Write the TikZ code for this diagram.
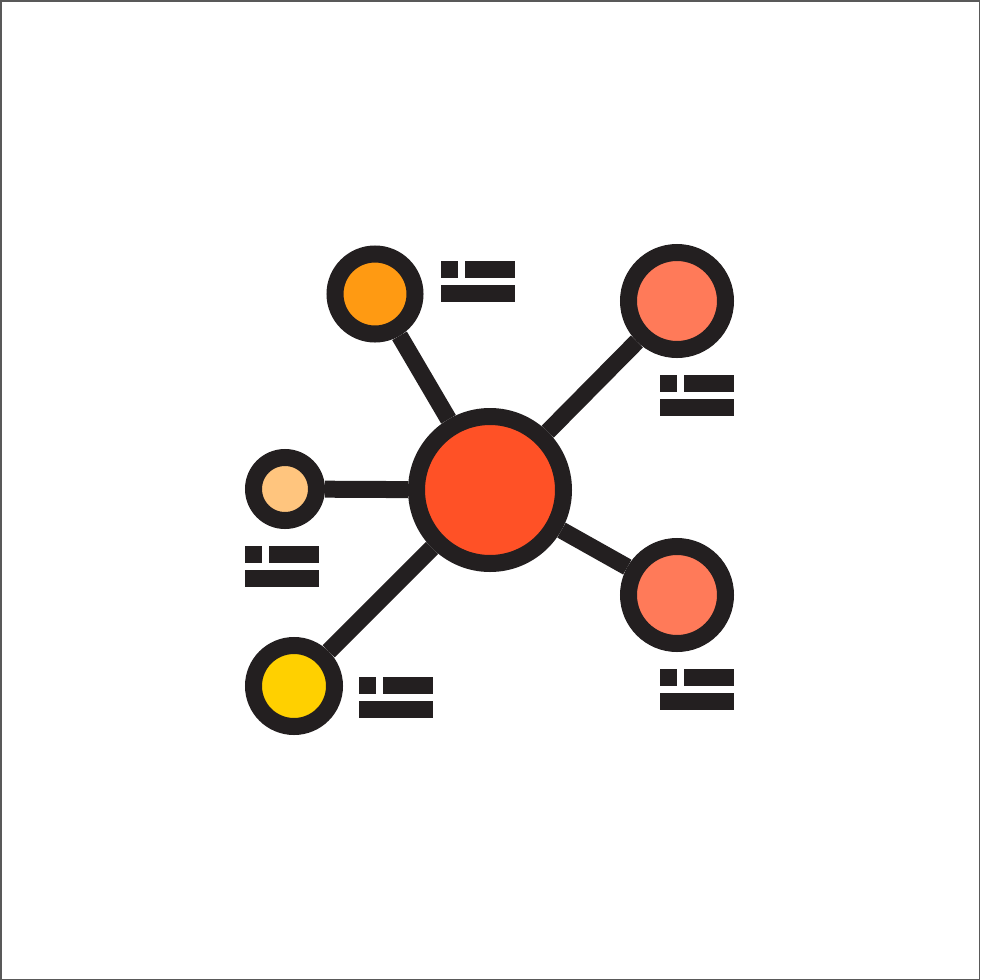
\documentclass[tikz,border=0pt]{standalone}
\definecolor{ink}{HTML}{231F20}
\definecolor{hubred}{HTML}{FF5126}
\definecolor{amber}{HTML}{FF9A12}
\definecolor{salmon}{HTML}{FF7A59}
\definecolor{peach}{HTML}{FFC57E}
\definecolor{gold}{HTML}{FFD000}
\tikzset{
  dot/.style={circle, draw=ink, line width=17, inner sep=0pt},
  spoke/.style={draw=ink, line width=17},
  bars/.pic={
    \fill[ink] (0,0) rectangle (17,17);
    \fill[ink] (24,0) rectangle (74,17);
    \fill[ink] (0,24) rectangle (74,41);
  }
}
\begin{document}
\begin{tikzpicture}[x=1pt, y=-1pt]
\useasboundingbox (0,0) rectangle (980,980);
\draw[gray!70!black, line width=1.5] (0.75,0.75) rectangle (979.25,979.25);
\node[dot, fill=hubred, minimum size=147] (hub) at (490,490){};
\node[dot, fill=amber, minimum size=80] (nd0) at (375,294){};
\node[dot, fill=salmon, minimum size=97] (nd1) at (677,301){};
\node[dot, fill=peach, minimum size=63] (nd2) at (285,489){};
\node[dot, fill=salmon, minimum size=97] (nd3) at (677,595){};
\node[dot, fill=gold, minimum size=81] (nd4) at (294,686){};
\draw[spoke] (hub) -- (nd0);
\draw[spoke] (hub) -- (nd1);
\draw[spoke] (hub) -- (nd2);
\draw[spoke] (hub) -- (nd3);
\draw[spoke] (hub) -- (nd4);
\pic at (441,261) {bars};
\pic at (660,375) {bars};
\pic at (245,546) {bars};
\pic at (660,669) {bars};
\pic at (359,677) {bars};
\end{tikzpicture}
\end{document}
